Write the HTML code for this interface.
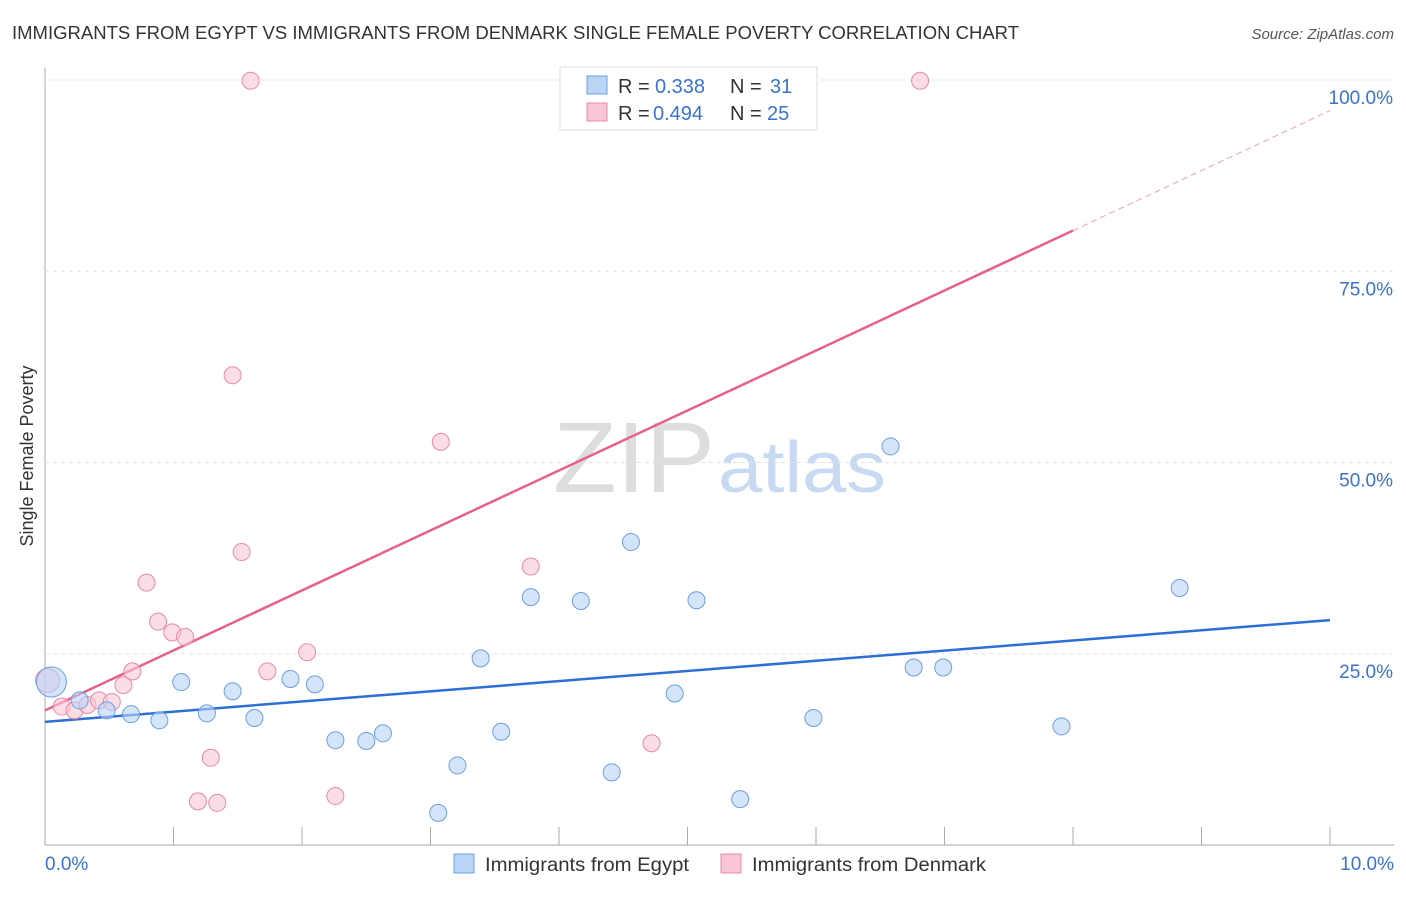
<!DOCTYPE html>
<html><head><meta charset="utf-8"><style>
body{margin:0;background:#fff;font-family:"Liberation Sans",sans-serif;}
svg text{font-family:"Liberation Sans",sans-serif;}
</style></head><body>
<svg id="c" width="1406" height="892" xmlns="http://www.w3.org/2000/svg">
<text x="12" y="39" font-size="18" fill="#333" textLength="1007" lengthAdjust="spacingAndGlyphs">IMMIGRANTS FROM EGYPT VS IMMIGRANTS FROM DENMARK SINGLE FEMALE POVERTY CORRELATION CHART</text>
<text x="1394" y="39" font-size="15" fill="#555" font-style="italic" text-anchor="end">Source: ZipAtlas.com</text>
<text x="33" y="456" font-size="18" fill="#333" text-anchor="middle" transform="rotate(-90 33 456)">Single Female Poverty</text>
<text x="553" y="492" font-size="100" fill="#ddd" font-family="Liberation Serif" textLength="162" lengthAdjust="spacingAndGlyphs">ZIP</text>
<text x="718" y="492" font-size="72" fill="#c8daf2" textLength="168" lengthAdjust="spacingAndGlyphs">atlas</text>
<g id="grid"></g><g id="lines"></g><g id="pts"></g>
<g>
<rect x="560" y="67" width="257" height="63" fill="#fff" stroke="#ddd"/>
<rect x="587" y="76" width="20" height="18" fill="#b9d4f5" stroke="#6a9fe0"/>
<text x="618" y="93" font-size="20" fill="#333">R =</text>
<text x="655" y="93" font-size="20" fill="#3a72d0">0.338</text>
<text x="730" y="93" font-size="20" fill="#333">N =</text>
<text x="770" y="93" font-size="20" fill="#3a72d0">31</text>
<rect x="587" y="103" width="20" height="18" fill="#f8c6d6" stroke="#e88aa8"/>
<text x="618" y="120" font-size="20" fill="#333">R =</text>
<text x="653" y="120" font-size="20" fill="#3a72d0">0.494</text>
<text x="730" y="120" font-size="20" fill="#333">N =</text>
<text x="767" y="120" font-size="20" fill="#3a72d0">25</text>
</g>
<g>
<rect x="454" y="854" width="20" height="19" fill="#b9d4f5" stroke="#6a9fe0"/>
<text x="485" y="871" font-size="19" fill="#333" textLength="204" lengthAdjust="spacingAndGlyphs">Immigrants from Egypt</text>
<rect x="721" y="854" width="20" height="19" fill="#f8c6d6" stroke="#e88aa8"/>
<text x="752" y="871" font-size="19" fill="#333" textLength="234" lengthAdjust="spacingAndGlyphs">Immigrants from Denmark</text>
</g>
</svg>
<script>
const egyptX=[0.05,0.27,0.48,0.67,0.89,1.06,1.26,1.46,1.63,1.91,2.10,2.26,2.50,2.63,3.21,3.06,3.39,3.55,3.78,4.17,4.41,4.56,4.90,5.07,5.41,5.98,6.58,6.76,6.99,7.91,8.83];
const egyptY=[21.3,18.9,17.6,17.1,16.3,21.3,17.2,20.1,16.6,21.7,21.0,13.7,13.6,14.6,10.4,4.2,24.4,14.8,32.4,31.9,9.5,39.6,19.8,32.0,6.0,16.6,52.1,23.2,23.2,15.5,33.6];
const denX=[0.02,0.13,0.23,0.33,0.42,0.52,0.61,0.68,0.79,0.88,0.99,1.09,1.29,1.19,1.34,1.46,1.53,1.60,1.73,2.04,2.26,3.08,3.78,4.72,6.81];
const denY=[21.5,18.1,17.6,18.3,18.9,18.7,20.9,22.7,34.3,29.2,27.8,27.2,11.4,5.7,5.5,61.4,38.3,99.9,22.7,25.2,6.4,52.7,36.4,13.3,99.9];
const yTicks=[25,50,75,100];
const yTickLabels=["25.0%","50.0%","75.0%","100.0%"];
const egyptTrend=[16.1,29.4];
const denTrend=[17.6,96.0];
const NS="http://www.w3.org/2000/svg";
const X=v=>45+v*128.5, Y=v=>845-v*7.65;
function mk(t,a,p){const e=document.createElementNS(NS,t);for(const k in a)e.setAttribute(k,a[k]);p.appendChild(e);return e;}
const grid=document.getElementById('grid');
const ax=mk('line',{x1:45,y1:68,x2:45,y2:845,stroke:'#aaa'},grid);


const bx=mk('line',{x1:45,y1:845,x2:1394,y2:845,stroke:'#aaa'},grid);


yTicks.forEach((t,i)=>{
 const g=mk('line',{x1:45,y1:Y(t),x2:1394,y2:Y(t),stroke:'#e2e2e2','stroke-dasharray':'4 4'},grid);
 
 
 const l=mk('text',{x:1393,y:Y(t)+24,'font-size':19,fill:'#3a72d0','text-anchor':'end'},grid);
 l.textContent=yTickLabels[i];
 
 
});
for(let i=1;i<=10;i++){
 const tk=mk('line',{x1:X(i),y1:827,x2:X(i),y2:845,stroke:'#aaa'},grid);
 
 
}
const xl0=mk('text',{x:45,y:870,'font-size':19,fill:'#3a72d0'},grid);xl0.textContent='0.0%';


const xl1=mk('text',{x:1394,y:870,'font-size':19,fill:'#3a72d0','text-anchor':'end'},grid);xl1.textContent='10.0%';


const pts=document.getElementById('pts');
function dots(xs,ys,f,s,name,bigR){xs.forEach((x,i)=>{
 const c=mk('circle',{cx:X(x),cy:Y(ys[i]),r:i===0?bigR:8.5,fill:f,'fill-opacity':0.6,stroke:s,'stroke-width':1},pts);
 
 
});}
dots(denX,denY,'#f8c6d6','#e88aa8','denmark-point',12);
dots(egyptX,egyptY,'#b9d4f5','#6a9fe0','egypt-point',15);
const L=document.getElementById('lines');
const bl=mk('line',{x1:X(0),y1:Y(egyptTrend[0]),x2:X(10),y2:Y(egyptTrend[1]),stroke:'#2e6fd6','stroke-width':2.5},L);


const pAt=x=>denTrend[0]+(denTrend[1]-denTrend[0])*x/10;
const pl=mk('line',{x1:X(0),y1:Y(pAt(0)),x2:X(8),y2:Y(pAt(8)),stroke:'#e8608e','stroke-width':2.5},L);


const pd=mk('line',{x1:X(8),y1:Y(pAt(8)),x2:X(10),y2:Y(pAt(10)),stroke:'#e8a0b8','stroke-width':1,'stroke-dasharray':'6 4'},L);


</script>
</body></html>
